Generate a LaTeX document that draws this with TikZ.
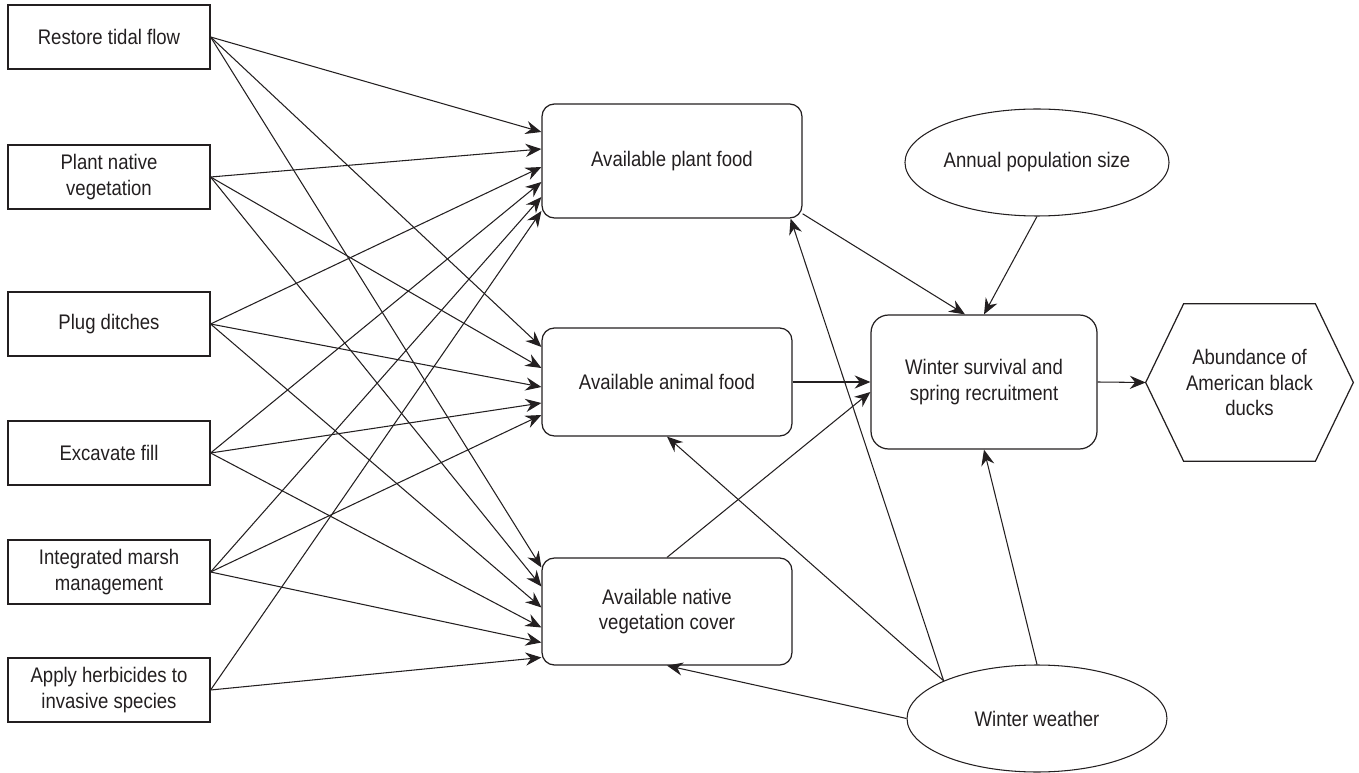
\documentclass[tikz,border=0pt]{standalone}
\usepackage{fontspec}
\setmainfont{Liberation Sans}[FakeStretch=0.88]
\usepackage{tikz}
\usetikzlibrary{shapes}
\usetikzlibrary{arrows.meta}
\usetikzlibrary{calc}
\definecolor{inkgray}{HTML}{231F20}

\tikzset{
  action/.style={draw=inkgray, line width=0.7pt, minimum width=4.04cm,
    minimum height=1.28cm, align=center, text=inkgray},
  factor/.style={draw=inkgray, line width=0.7pt, rounded corners=7pt,
    align=center, text=inkgray},
  outcome/.style={ellipse, draw=inkgray, line width=0.6pt, inner sep=0pt,
    align=center, text=inkgray},
  link/.style={->, draw=inkgray, line width=0.6pt}
}

\begin{document}
\begin{tikzpicture}[x=0.02cm, y=-0.02cm,
    >={Stealth[length=9pt,width=7.5pt,inset=3pt]},
    font=\fontsize{12}{14.5}\selectfont]

        \useasboundingbox (0,0) rectangle (1359,773);

        % Management actions
        \node[action] (rtf) at (109,37) {Restore tidal flow};
        \node[action] (pnv) at (109,177) {Plant native\\vegetation};
        \node[action] (pd) at (109,324) {Plug ditches};
        \node[action] (ef) at (109,453) {Excavate fill};
        \node[action] (imm) at (109,572) {Integrated marsh\\management};
        \node[action] (ah) at (109,690) {Apply herbicides to\\invasive species};

        % Habitat factors
        \node[factor, minimum width=5.2cm, minimum height=2.28cm] (pf) at (672,161)
            {Available plant food};
        \node[factor, minimum width=5.0cm, minimum height=2.16cm] (af) at (667,382)
            {Available animal food};
        \node[factor, minimum width=5.0cm, minimum height=2.14cm] (nc) at (667,611.5)
            {Available native\\vegetation cover};

        % Population
        \node[factor, rounded corners=10pt, minimum width=4.52cm, minimum height=2.68cm]
            (ws) at (984,382) {Winter survival and\\spring recruitment};
        \node[outcome, minimum width=4.92cm, minimum height=2.14cm] (ap) at (1037,162.5)
            {Annual population size};
        \node[outcome, minimum width=5.2cm, minimum height=2.14cm] (ww) at (1037,718.5)
            {Winter weather};

        % Objective (hexagon)
        \node[align=center, text=inkgray, minimum width=4.14cm, minimum height=3.14cm]
            (ab) at (1249.5,382.5) {Abundance of\\American black\\ducks};
        \draw[draw=inkgray, line width=0.7pt] (ab.west) -- ($(ab.north west)+(38,0)$)
            -- ($(ab.north east)+(-38,0)$) -- (ab.east)
            -- ($(ab.south east)+(-38,0)$) -- ($(ab.south west)+(38,0)$) -- cycle;

        % Actions to plant food
        \draw[link] (rtf.east) -- ($(pf.west)+(0,-29)$);
        \draw[link] (pnv.east) -- ($(pf.west)+(0,-12)$);
        \draw[link] (pd.east) -- ($(pf.west)+(0,6)$);
        \draw[link] (ef.east) -- ($(pf.west)+(0,21)$);
        \draw[link] (imm.east) -- ($(pf.west)+(0,36)$);
        \draw[link] (ah.east) -- ($(pf.west)+(0,50)$);

        % Actions to animal food
        \draw[link] (rtf.east) -- ($(af.west)+(0,-35)$);
        \draw[link] (pnv.east) -- ($(af.west)+(0,-14)$);
        \draw[link] (pd.east) -- ($(af.west)+(0,5)$);
        \draw[link] (ef.east) -- ($(af.west)+(0,21)$);
        \draw[link] (imm.east) -- ($(af.west)+(0,33)$);

        % Actions to native cover
        \draw[link] (rtf.east) -- ($(nc.west)+(0,-44)$);
        \draw[link] (pnv.east) -- ($(nc.west)+(0,-25)$);
        \draw[link] (pd.east) -- ($(nc.west)+(0,-4)$);
        \draw[link] (ef.east) -- ($(nc.west)+(0,16)$);
        \draw[link] (imm.east) -- ($(nc.west)+(0,31)$);
        \draw[link] (ah.east) -- ($(nc.west)+(0,46)$);

        % Habitat to survival
        \draw[link] (pf.-22) -- ($(ws.north)+(-19,0)$);
        \draw[link] (af.east) -- (ws.west);
        \draw[link] (nc.north) -- ($(ws.west)+(0,10)$);
        \draw[link] (ap.south) -- (ws.north);

        % Winter weather
        \draw[link] (ww.north) -- (ws.south);
        \draw[link] (ww.158) -- ($(pf.south east)+(-12,0)$);
        \draw[link] (ww.158) -- (af.south);
        \draw[link] (ww.west) -- (nc.south);

        % Survival to abundance
        \draw[link] (ws.east) -- (ab.west);

\end{tikzpicture}
\end{document}
